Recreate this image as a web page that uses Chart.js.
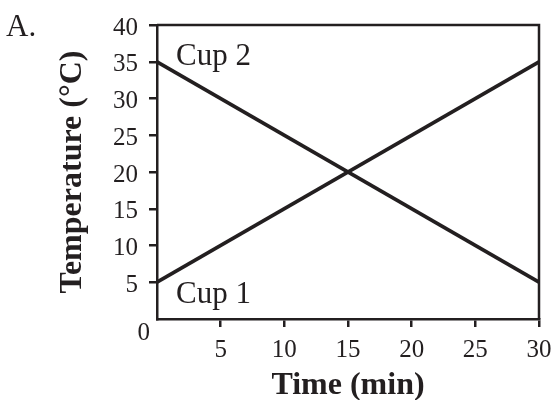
<!DOCTYPE html>
<html>
<head>
<meta charset="utf-8">
<script src="https://cdn.jsdelivr.net/npm/chart.js@4"></script>
<style>
  html, body { margin: 0; padding: 0; background: #ffffff; }
  #wrap { width: 553px; height: 400px; position: relative; }
</style>
</head>
<body>
<div id="wrap"><canvas id="c" width="553" height="400"></canvas></div>
<script>
// ---- data ----
const timeMin = [0, 30];
const cup1Temp = [5, 35];
const cup2Temp = [35, 5];
const seriesNames = ['Cup 1', 'Cup 2'];
const xTickValues = [5, 10, 15, 20, 25, 30];
const yTickValues = [0, 5, 10, 15, 20, 25, 30, 35, 40];
const panelLabel = 'A.';
const xTitle = 'Time (min)';
const yTitle = 'Temperature (°C)';
// label anchor positions (data coordinates)
const cup1LabelAt = [1.5, 2.2];
const cup2LabelAt = [1.5, 34.6];

const INK = '#231f20';
const SERIF = "'Liberation Serif', 'Times New Roman', serif";

function pts(xs, ys) { return xs.map((x, i) => ({ x: x, y: ys[i] })); }

const extras = {
  id: 'extras',
  afterDraw(chart) {
    const ctx = chart.ctx;
    const a = chart.chartArea;
    const xs = chart.scales.x, ys = chart.scales.y;
    ctx.save();
    // plot frame (top and right sides)
    ctx.strokeStyle = INK;
    ctx.lineWidth = 2.5;
    ctx.beginPath();
    ctx.moveTo(a.left, a.top);
    ctx.lineTo(a.right, a.top);
    ctx.lineTo(a.right, a.bottom);
    ctx.stroke();
    ctx.fillStyle = INK;
    // corner zero label
    ctx.font = '25px ' + SERIF;
    ctx.textAlign = 'right';
    ctx.textBaseline = 'middle';
    ctx.fillText(String(yTickValues[0]), a.left - 7, a.bottom + 14);
    // series labels
    ctx.font = '31px ' + SERIF;
    ctx.textAlign = 'left';
    ctx.textBaseline = 'alphabetic';
    ctx.fillText(seriesNames[1], xs.getPixelForValue(cup2LabelAt[0]), ys.getPixelForValue(cup2LabelAt[1]));
    ctx.fillText(seriesNames[0], xs.getPixelForValue(cup1LabelAt[0]), ys.getPixelForValue(cup1LabelAt[1]));
    // panel label
    ctx.font = '31px ' + SERIF;
    ctx.fillText(panelLabel, 6, 36);
    ctx.restore();
  }
};

new Chart(document.getElementById('c'), {
  type: 'line',
  data: {
    datasets: [
      { label: seriesNames[0], data: pts(timeMin, cup1Temp), borderColor: INK, borderWidth: 3.7, pointRadius: 0, fill: false, tension: 0 },
      { label: seriesNames[1], data: pts(timeMin, cup2Temp), borderColor: INK, borderWidth: 3.7, pointRadius: 0, fill: false, tension: 0 }
    ]
  },
  options: {
    responsive: false,
    animation: false,
    events: [],
    layout: { padding: { top: 25, right: 14, left: 0, bottom: 0 } },
    plugins: { legend: { display: false }, tooltip: { enabled: false }, title: { display: false } },
    scales: {
      x: {
        type: 'linear',
        min: 0, max: 30,
        afterBuildTicks(scale) { scale.ticks = [0].concat(xTickValues).map(v => ({ value: v })); },
        afterFit(scale) { scale.height = 81; scale.paddingLeft = 0; scale.paddingRight = 0; },
        border: { display: true, color: INK, width: 2.5 },
        grid: {
          drawOnChartArea: false, drawTicks: true, tickLength: 8,
          lineWidth: 2.5,
          color: (c) => (c.tick && c.tick.value === 0) ? 'rgba(0,0,0,0)' : INK
        },
        ticks: {
          color: INK, padding: 8, maxRotation: 0, autoSkip: false,
          font: { family: SERIF, size: 25 },
          callback: (v) => v === 0 ? '' : String(v)
        },
        title: {
          display: true, text: xTitle, color: INK,
          font: { family: SERIF, size: 32, weight: 'bold', lineHeight: 0.9 },
          padding: { top: 0, bottom: 0 }
        }
      },
      y: {
        type: 'linear',
        min: 0, max: 40,
        afterBuildTicks(scale) { scale.ticks = yTickValues.map(v => ({ value: v })); },
        afterFit(scale) { scale.width = 157; scale.paddingTop = 0; scale.paddingBottom = 0; },
        border: { display: true, color: INK, width: 2.5 },
        grid: {
          drawOnChartArea: false, drawTicks: true, tickLength: 8,
          lineWidth: 2.5,
          color: (c) => (c.tick && c.tick.value === 0) ? 'rgba(0,0,0,0)' : INK
        },
        ticks: {
          color: INK, padding: 11, labelOffset: 3, autoSkip: false,
          font: { family: SERIF, size: 25 },
          callback: (v) => v === 0 ? '' : String(v)
        },
        title: {
          display: true, text: yTitle, color: INK,
          font: { family: SERIF, size: 32, weight: 'bold', lineHeight: 1 },
          padding: { top: 57, bottom: 0 }
        }
      }
    }
  },
  plugins: [extras]
});
</script>
</body>
</html>
